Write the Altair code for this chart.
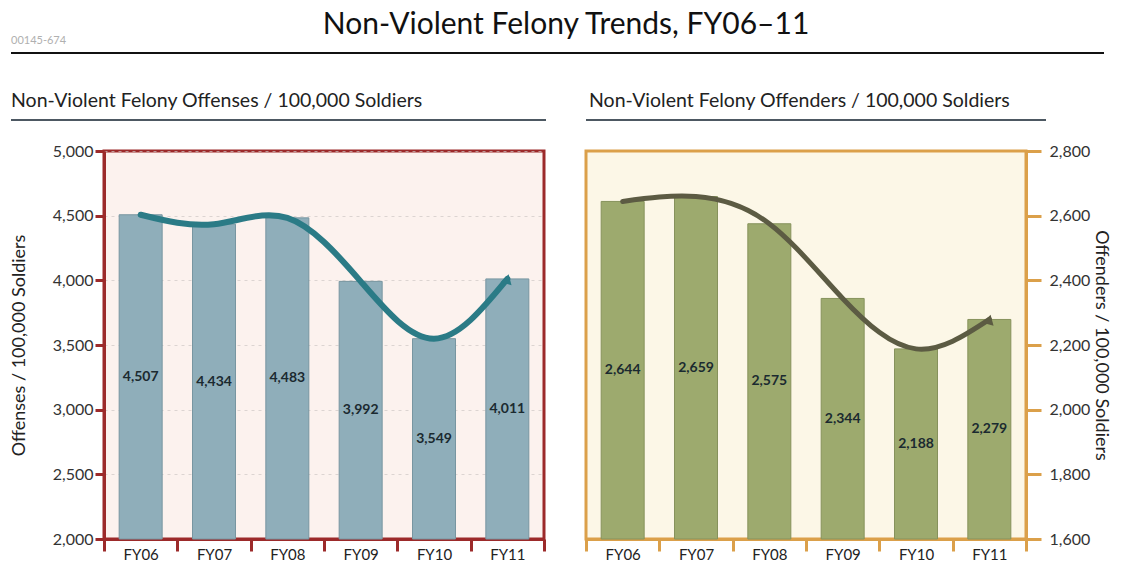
import altair as alt
import pandas as pd

years = ["FY06", "FY07", "FY08", "FY09", "FY10", "FY11"]
offenses = [4507, 4434, 4483, 3992, 3549, 4011]
offenders = [2644, 2659, 2575, 2344, 2188, 2279]

main_title = "Non-Violent Felony Trends, FY06–11"
doc_code = "00145-674"
left_header = "Non-Violent Felony Offenses / 100,000 Soldiers"
right_header = "Non-Violent Felony Offenders / 100,000 Soldiers"
left_axis_title = "Offenses / 100,000 Soldiers"
right_axis_title = "Offenders / 100,000 Soldiers"
left_ticks = [2000, 2500, 3000, 3500, 4000, 4500, 5000]
right_ticks = [1600, 1800, 2000, 2200, 2400, 2600, 2800]

FONT = "Lato"
W, H = 440, 388


def text_layer(txt, x, y, size, color="#222", align="left", weight="normal"):
    return alt.Chart(pd.DataFrame({"t": [txt]})).mark_text(
        align=align, baseline="middle", font=FONT, fontSize=size,
        color=color, fontWeight=weight
    ).encode(x=alt.value(x), y=alt.value(y), text="t:N")


def rule_layer(x1, x2, y, color, width):
    return alt.Chart(pd.DataFrame({"r": [0]})).mark_rule(
        color=color, strokeWidth=width
    ).encode(x=alt.value(x1), x2=alt.value(x2), y=alt.value(y))


def panel(values, base, top, ticks, bar_fill, bar_stroke, line_color, line_w,
          axis_color, bg, orient, axis_title, title_x, title_angle, tick_size,
          label_pad, grid, extras):
    df = pd.DataFrame({"year": years, "value": values})
    yscale = alt.Scale(domain=[base, top], nice=False, zero=False)
    xscale = alt.Scale(paddingInner=0, paddingOuter=0)
    xaxis = alt.Axis(
        title=None, tickBand="extent", domainColor=axis_color, domainWidth=3,
        tickColor=axis_color, tickWidth=3, tickSize=12, labelFont=FONT,
        labelFontSize=15, labelColor="#222", labelPadding=-4, labelAngle=0,
    )
    yaxis = alt.Axis(
        orient=orient, values=ticks, format=",.0f", title=axis_title,
        titleFont=FONT, titleFontSize=18, titleFontWeight="normal",
        titleColor="#222", titleX=title_x, titleY=H / 2, titleAngle=title_angle,
        titleAlign="center", titleBaseline="middle",
        labelFont=FONT, labelFontSize=16, labelColor="#333",
        labelPadding=label_pad, tickSize=tick_size, tickWidth=3,
        tickColor=axis_color, domainColor=axis_color, domainWidth=3,
        grid=grid, gridDash=[3, 4], gridColor="#cfc8c4", gridOpacity=0.7,
    )
    xenc = alt.X("year:N", sort=years, scale=xscale, axis=xaxis)

    def yenc(field):
        return alt.Y(field, scale=yscale, axis=yaxis)

    bars = alt.Chart(df).mark_bar(
        size=43, fill=bar_fill, stroke=bar_stroke, strokeWidth=1
    ).encode(x=xenc, y=yenc("value:Q"), y2=alt.datum(base))
    line = alt.Chart(df).mark_line(
        interpolate="natural", strokeWidth=line_w, color=line_color,
        strokeCap="round"
    ).encode(x=xenc, y=yenc("value:Q"))
    arrow = alt.Chart(df).transform_filter(
        alt.datum.year == years[-1]
    ).mark_point(
        shape="triangle-up", filled=True, size=130, angle=15,
        color=line_color, opacity=1
    ).encode(x=xenc, y=yenc("value:Q"))
    labels = alt.Chart(df).transform_calculate(
        mid=f"(datum.value + {base}) / 2"
    ).mark_text(
        font=FONT, fontSize=14, fontWeight="bold", color="#1b2a30"
    ).encode(x=xenc, y=yenc("mid:Q"), text=alt.Text("value:Q", format=","))
    return alt.layer(bars, line, arrow, labels, *extras).properties(
        width=W, height=H,
        view=alt.ViewBackground(fill=bg, stroke=axis_color, strokeWidth=3),
    )


left_extras = [
    text_layer(main_title, 462, -126, 30, "#111", "center"),
    text_layer(doc_code, -93, -110, 11, "#b0b0b0"),
    rule_layer(-93, 1000, -98, "#111111", 2),
    text_layer(left_header, -93, -50, 19.5, "#222"),
    rule_layer(-93, 442, -31, "#4d5862", 2),
]
right_extras = [
    text_layer(right_header, 3, -50, 19.5, "#222"),
    rule_layer(0, 460, -31, "#4d5862", 2),
]

left = panel(offenses, 2000, 5000, left_ticks, "#8faeba", "#7896a1", "#2b7b86", 6,
             "#9c2a2a", "#fcf2ee", "left", left_axis_title, -85, 270, 9, 2, True,
             left_extras)
right = panel(offenders, 1600, 2800, right_ticks, "#9daa6e", "#86925c", "#5c5b43", 5,
              "#dba04a", "#fcf7e7", "right", right_axis_title, 74, 90, 15, 8, False,
              right_extras)

chart = alt.hconcat(left, right, spacing=42, bounds="flush").properties(
    padding={"left": 0, "top": 0, "right": 0, "bottom": 0}
).configure_view(strokeWidth=3)

chart.save("out.html", embed_options={"renderer": "svg", "actions": False})
